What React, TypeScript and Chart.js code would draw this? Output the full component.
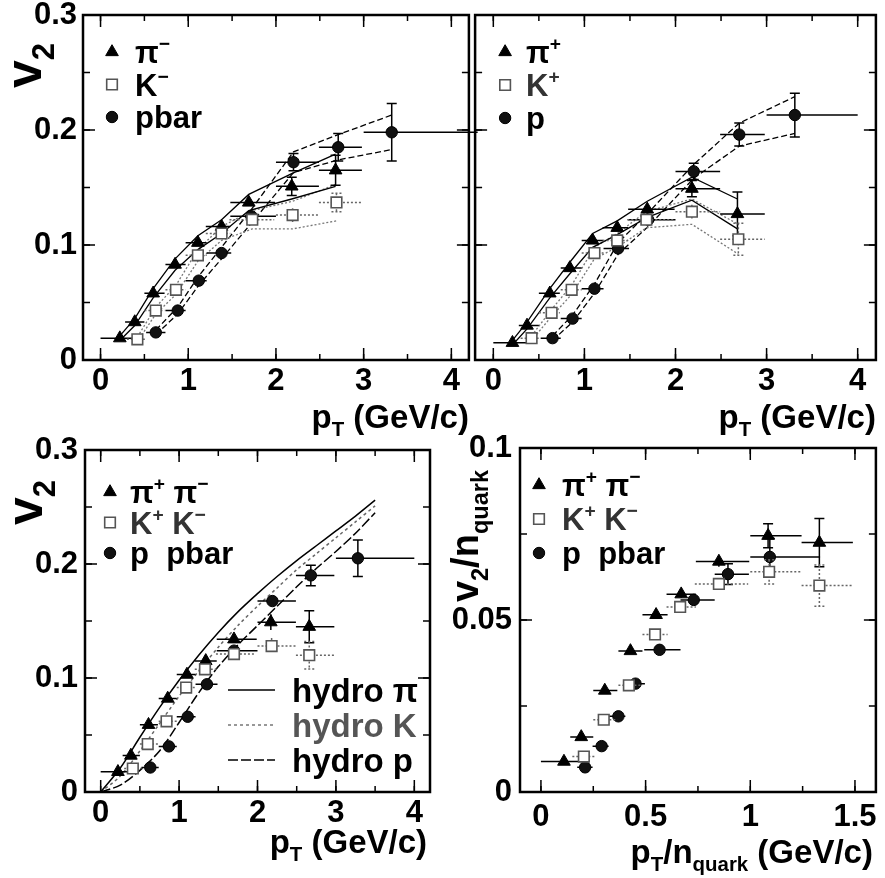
import React, { useEffect, useRef } from 'react';
import { Chart, registerables } from 'chart.js';
Chart.register(...registerables);

const FONT = '"Liberation Sans", Arial, Helvetica, sans-serif';

// ---------------- tick labels ----------------
const ptTicks = [0, 1, 2, 3, 4];
const v2Ticks = [0, 0.1, 0.2, 0.3];
const nqXTicks = [0, 0.5, 1, 1.5];
const nqYTicks = [0, 0.05, 0.1];

// ---------------- top-left: negative particles ----------------
const piMinusX = [0.22, 0.39, 0.6, 0.85, 1.11, 1.38, 1.69, 2.18, 2.68];
const piMinusV2 = [0.019, 0.033, 0.058, 0.083, 0.102, 0.116, 0.137, 0.151, 0.165];
const piMinusErr = [0.001, 0.001, 0.001, 0.001, 0.002, 0.002, 0.003, 0.008, 0.013];
const piMinusSys = [0.002, 0.003, 0.004, 0.005, 0.006, 0.006, 0.007, 0.011, 0.014];

const kMinusX = [0.42, 0.63, 0.86, 1.11, 1.38, 1.73, 2.19, 2.69];
const kMinusV2 = [0.018, 0.043, 0.061, 0.091, 0.11, 0.122, 0.126, 0.137];
const kMinusErr = [0.002, 0.002, 0.002, 0.002, 0.003, 0.003, 0.006, 0.008];
const kMinusSys = [0.002, 0.003, 0.004, 0.005, 0.006, 0.008, 0.012, 0.016];

const pbarX = [0.63, 0.88, 1.12, 1.38, 1.72, 2.2, 2.71, 3.32];
const pbarV2 = [0.024, 0.043, 0.069, 0.093, 0.125, 0.172, 0.185, 0.198];
const pbarErr = [0.001, 0.001, 0.001, 0.002, 0.003, 0.0075, 0.012, 0.025];
const pbarSys = [0.002, 0.003, 0.004, 0.005, 0.006, 0.009, 0.011, 0.015];

// ---------------- top-right: positive particles ----------------
const piPlusX = [0.21, 0.37, 0.62, 0.84, 1.09, 1.36, 1.69, 2.18, 2.68];
const piPlusV2 = [0.015, 0.03, 0.058, 0.08, 0.104, 0.115, 0.131, 0.149, 0.127];
const piPlusErr = [0.001, 0.001, 0.001, 0.001, 0.002, 0.002, 0.003, 0.007, 0.019];
const piPlusSys = [0.002, 0.003, 0.004, 0.005, 0.006, 0.006, 0.007, 0.01, 0.013];

const kPlusX = [0.42, 0.64, 0.86, 1.11, 1.36, 1.68, 2.18, 2.69];
const kPlusV2 = [0.019, 0.041, 0.061, 0.093, 0.104, 0.122, 0.129, 0.105];
const kPlusErr = [0.002, 0.002, 0.002, 0.002, 0.003, 0.003, 0.006, 0.014];
const kPlusSys = [0.002, 0.003, 0.004, 0.005, 0.006, 0.007, 0.011, 0.013];

const protonX = [0.65, 0.87, 1.11, 1.37, 1.7, 2.2, 2.7, 3.31];
const protonV2 = [0.019, 0.036, 0.062, 0.097, 0.122, 0.164, 0.196, 0.213];
const protonErr = [0.001, 0.001, 0.001, 0.002, 0.003, 0.007, 0.01, 0.019];
const protonSys = [0.002, 0.003, 0.004, 0.005, 0.006, 0.006, 0.01, 0.016];

// ---------------- bottom: combined charges ----------------
const piX = [0.22, 0.385, 0.61, 0.855, 1.1, 1.34, 1.7, 2.17, 2.66];
const piV2 = [0.0177, 0.032, 0.059, 0.082, 0.103, 0.115, 0.134, 0.149, 0.145];
const piErr = [0.001, 0.001, 0.001, 0.001, 0.002, 0.002, 0.003, 0.007, 0.014];

const kX = [0.41, 0.6, 0.84, 1.09, 1.33, 1.7, 2.18, 2.66];
const kV2 = [0.0206, 0.042, 0.062, 0.0916, 0.1076, 0.121, 0.128, 0.12];
const kErr = [0.002, 0.002, 0.002, 0.002, 0.003, 0.003, 0.007, 0.012];

const pX = [0.633, 0.87, 1.11, 1.355, 1.7, 2.19, 2.68, 3.28];
const pV2 = [0.0215, 0.04, 0.066, 0.0945, 0.124, 0.1675, 0.19, 0.205];
const pErr = [0.001, 0.001, 0.001, 0.002, 0.002, 0.004, 0.009, 0.016];

// pT bin edges (horizontal bars)
const pionBinLo = [0.0, 0.28, 0.5, 0.74, 0.97, 1.2, 1.48, 2.0, 2.49];
const pionBinHi = [0.38, 0.5, 0.73, 0.97, 1.21, 1.48, 1.99, 2.49, 2.98];
const kaonBinLo = [0.3, 0.5, 0.74, 0.97, 1.2, 1.47, 2.0, 2.49];
const kaonBinHi = [0.52, 0.73, 0.97, 1.21, 1.48, 1.98, 2.49, 2.98];
const protonBinLo = [0.52, 0.74, 0.97, 1.21, 1.48, 2.0, 2.49, 3.0];
const protonBinHi = [0.74, 0.97, 1.21, 1.49, 2.0, 2.49, 2.98, 4.0];
const pbarBinHiTop = [0.74, 0.97, 1.21, 1.49, 2.0, 2.49, 2.98, 4.3];

// number of constituent quarks
const nqPion = 2;
const nqKaon = 2;
const nqProton = 3;

// hydro curves
const hydroPt = [0, 0.25, 0.5, 0.75, 1, 1.25, 1.5, 1.75, 2, 2.25, 2.5, 2.75, 3, 3.25, 3.5];
const hydroPi = [0, 0.021, 0.048, 0.074, 0.098, 0.12, 0.14, 0.158, 0.174, 0.189, 0.203, 0.216, 0.229, 0.242, 0.256];
const hydroK = [0, 0.014, 0.036, 0.06, 0.084, 0.106, 0.127, 0.146, 0.163, 0.179, 0.195, 0.209, 0.223, 0.237, 0.251];
const hydroP = [0, 0.006, 0.019, 0.036, 0.061, 0.087, 0.11, 0.129, 0.146, 0.163, 0.18, 0.196, 0.211, 0.227, 0.245];

// ---------------- drawing helpers ----------------
type Seg = { t: string; s?: 'sub' | 'sup' };

function segSize(seg: Seg, size: number) {
  return seg.s ? size * 0.62 : size;
}

function richWidth(ctx: CanvasRenderingContext2D, segs: Seg[], size: number) {
  let w = 0;
  for (const sg of segs) {
    ctx.font = `bold ${segSize(sg, size)}px ${FONT}`;
    w += ctx.measureText(sg.t).width;
  }
  return w;
}

function drawRich(
  ctx: CanvasRenderingContext2D,
  segs: Seg[],
  x: number,
  y: number,
  size: number,
  align: 'left' | 'right',
  color: string
) {
  const total = richWidth(ctx, segs, size);
  let cx = align === 'right' ? x - total : x;
  ctx.fillStyle = color;
  ctx.textAlign = 'left';
  ctx.textBaseline = 'alphabetic';
  for (const sg of segs) {
    const fs = segSize(sg, size);
    ctx.font = `bold ${fs}px ${FONT}`;
    const dy = sg.s === 'sub' ? size * 0.25 : sg.s === 'sup' ? -size * 0.42 : 0;
    ctx.fillText(sg.t, cx, y + dy);
    cx += ctx.measureText(sg.t).width;
  }
}

const markerStyles: Record<string, { style: string; r: number; fill: string; stroke: string; lw: number; errColor: string; errDash: number[] }> = {
  pion: { style: 'triangle', r: 7.3, fill: '#000', stroke: '#000', lw: 1, errColor: '#000', errDash: [] },
  kaon: { style: 'rect', r: 7.5, fill: '#fff', stroke: '#555', lw: 1.6, errColor: '#666', errDash: [2, 2] },
  proton: { style: 'circle', r: 5.7, fill: '#111', stroke: '#000', lw: 1, errColor: '#000', errDash: [] },
};

function drawMarker(ctx: CanvasRenderingContext2D, kind: string, x: number, y: number) {
  const m = markerStyles[kind];
  const r = m.r;
  ctx.beginPath();
  if (m.style === 'triangle') {
    ctx.moveTo(x, y - r);
    ctx.lineTo(x + r * 0.866, y + r * 0.5);
    ctx.lineTo(x - r * 0.866, y + r * 0.5);
    ctx.closePath();
  } else if (m.style === 'rect') {
    const s = r * Math.SQRT1_2;
    ctx.rect(x - s, y - s, 2 * s, 2 * s);
  } else {
    ctx.arc(x, y, r, 0, Math.PI * 2);
  }
  ctx.fillStyle = m.fill;
  ctx.fill();
  ctx.lineWidth = m.lw;
  ctx.strokeStyle = m.stroke;
  ctx.setLineDash([]);
  ctx.stroke();
}

function markerSet(kind: string, xs: number[], ys: number[], errY: number[], binLo: number[], binHi: number[]) {
  const m = markerStyles[kind];
  return {
    type: 'scatter',
    data: xs.map((x, i) => ({ x, y: ys[i] })),
    pointStyle: m.style,
    pointRadius: m.r,
    backgroundColor: m.fill,
    borderColor: m.stroke,
    borderWidth: m.lw,
    showLine: false,
    order: 1,
    errY,
    errXLo: binLo,
    errXHi: binHi,
    errColor: m.errColor,
    errDash: m.errDash,
  };
}

function bandSets(xs: number[], ys: number[], sys: number[], dash: number[], color: string) {
  const mk = (sign: number) => ({
    type: 'scatter',
    data: xs.map((x, i) => ({ x, y: ys[i] + sign * sys[i] })),
    showLine: true,
    pointRadius: 0,
    borderColor: color,
    borderWidth: 1.3,
    borderDash: dash,
    order: 3,
  });
  return [mk(1), mk(-1)];
}

function curveSet(ys: number[], dash: number[], color: string, width: number) {
  return {
    type: 'scatter',
    data: hydroPt.map((x, i) => ({ x, y: ys[i] })),
    showLine: true,
    pointRadius: 0,
    borderColor: color,
    borderWidth: width,
    borderDash: dash,
    tension: 0.3,
    order: 3,
  };
}

type LegendItem = { label: Seg[]; marker?: string; line?: { dash: number[]; color: string }; color?: string };

interface DecorCfg {
  xMajor: number;
  xMinor: number;
  yMajor: number;
  yMinor: number;
  legend: { dx: number; dy: number; rowH: number; markerDx: number; textDx: number; size: number; items: LegendItem[] };
  hydro?: { dx: number; dy: number; rowH: number; lineLen: number; textDx: number; size: number; items: LegendItem[] };
  xTitle: { segs: Seg[]; dx: number; dy: number; size: number };
  yTitle?: { segs: Seg[]; dx: number; dy: number; size: number };
}

function makeDecor(cfg: DecorCfg) {
  return {
    id: 'decor',
    beforeDatasetDraw(chart: any, args: any) {
      const ds = chart.data.datasets[args.index];
      if (!ds.errY) return;
      const { ctx } = chart;
      const xs = chart.scales.x;
      const ys = chart.scales.y;
      ctx.save();
      ctx.strokeStyle = ds.errColor;
      ctx.lineWidth = 1.5;
      ctx.setLineDash(ds.errDash);
      ds.data.forEach((pt: any, i: number) => {
        const px = xs.getPixelForValue(pt.x);
        const py = ys.getPixelForValue(pt.y);
        const xl = xs.getPixelForValue(ds.errXLo[i]);
        const xh = xs.getPixelForValue(ds.errXHi[i]);
        const yt = ys.getPixelForValue(pt.y + ds.errY[i]);
        const yb = ys.getPixelForValue(pt.y - ds.errY[i]);
        ctx.beginPath();
        ctx.moveTo(xl, py);
        ctx.lineTo(xh, py);
        ctx.moveTo(px, yt);
        ctx.lineTo(px, yb);
        if (py - yt > 8) {
          ctx.moveTo(px - 5, yt);
          ctx.lineTo(px + 5, yt);
          ctx.moveTo(px - 5, yb);
          ctx.lineTo(px + 5, yb);
        }
        ctx.stroke();
      });
      ctx.restore();
    },
    afterDraw(chart: any) {
      const { ctx, chartArea: a } = chart;
      const xs = chart.scales.x;
      const ys = chart.scales.y;
      ctx.save();
      ctx.strokeStyle = '#000';
      ctx.setLineDash([]);
      ctx.lineWidth = 1.5;
      const eps = 1e-9;
      const xTicks = (step: number, len: number) => {
        for (let i = Math.ceil(xs.min / step - eps); i * step <= xs.max + eps; i++) {
          const px = xs.getPixelForValue(i * step);
          ctx.beginPath();
          ctx.moveTo(px, a.bottom);
          ctx.lineTo(px, a.bottom - len);
          ctx.moveTo(px, a.top);
          ctx.lineTo(px, a.top + len);
          ctx.stroke();
        }
      };
      const yTicks = (step: number, len: number) => {
        for (let i = Math.ceil(ys.min / step - eps); i * step <= ys.max + eps; i++) {
          const py = ys.getPixelForValue(i * step);
          ctx.beginPath();
          ctx.moveTo(a.left, py);
          ctx.lineTo(a.left + len, py);
          ctx.moveTo(a.right, py);
          ctx.lineTo(a.right - len, py);
          ctx.stroke();
        }
      };
      xTicks(cfg.xMinor, 6);
      xTicks(cfg.xMajor, 12);
      yTicks(cfg.yMinor, 7);
      yTicks(cfg.yMajor, 12);
      ctx.lineWidth = 2.5;
      ctx.strokeRect(a.left, a.top, a.right - a.left, a.bottom - a.top);

      // legend
      const L = cfg.legend;
      L.items.forEach((it, i) => {
        const cy = a.top + L.dy + i * L.rowH;
        if (it.marker) drawMarker(ctx, it.marker, a.left + L.markerDx, cy);
        drawRich(ctx, it.label, a.left + L.textDx, cy + L.size * 0.36, L.size, 'left', it.color || '#000');
      });
      if (cfg.hydro) {
        const H = cfg.hydro;
        H.items.forEach((it, i) => {
          const cy = a.top + H.dy + i * H.rowH;
          if (it.line) {
            ctx.save();
            ctx.strokeStyle = it.line.color;
            ctx.lineWidth = 1.6;
            ctx.setLineDash(it.line.dash);
            ctx.beginPath();
            ctx.moveTo(a.left + H.dx, cy);
            ctx.lineTo(a.left + H.dx + H.lineLen, cy);
            ctx.stroke();
            ctx.restore();
          }
          drawRich(ctx, it.label, a.left + H.textDx, cy + H.size * 0.36, H.size, 'left', it.color || '#000');
        });
      }
      // axis titles
      const T = cfg.xTitle;
      drawRich(ctx, T.segs, a.right + T.dx, a.bottom + T.dy, T.size, 'right', '#000');
      if (cfg.yTitle) {
        const Y = cfg.yTitle;
        ctx.save();
        ctx.translate(a.left + Y.dx, a.top + Y.dy);
        ctx.rotate(-Math.PI / 2);
        drawRich(ctx, Y.segs, 0, 0, Y.size, 'right', '#000');
        ctx.restore();
      }
      ctx.restore();
    },
  };
}

interface AxisCfg {
  pad: { top: number; right: number; left: number; bottom: number };
  xMin: number;
  xMax: number;
  yMin: number;
  yMax: number;
  xTickVals: number[];
  yTickVals: number[] | null;
  yWidth: number;
  xHeight: number;
  xLabelPad: number;
  yLabelPad: number;
}

function makeConfig(ax: AxisCfg, datasets: any[], decor: DecorCfg): any {
  const tickFont = { family: FONT, size: 31, weight: 'bold' as const, lineHeight: 1.2 };
  return {
    type: 'scatter',
    data: { datasets },
    options: {
      animation: false,
      responsive: false,
      maintainAspectRatio: false,
      events: [],
      layout: { padding: { top: ax.pad.top, right: ax.pad.right, left: ax.pad.left, bottom: ax.pad.bottom } },
      plugins: { legend: { display: false }, tooltip: { enabled: false } },
      scales: {
        x: {
          type: 'linear',
          min: ax.xMin,
          max: ax.xMax,
          grid: { display: false, drawTicks: false },
          border: { display: false },
          ticks: {
            color: '#000',
            font: tickFont,
            padding: ax.xLabelPad,
            maxRotation: 0,
            autoSkip: false,
            callback: (v: any) => String(v),
          },
          afterBuildTicks: (s: any) => {
            s.ticks = ax.xTickVals.map((v) => ({ value: v }));
          },
          afterFit: (s: any) => {
            s.height = ax.xHeight;
            s.paddingTop = 0;
            s.paddingBottom = 0;
            s.paddingLeft = 0;
            s.paddingRight = 0;
          },
        },
        y: {
          type: 'linear',
          min: ax.yMin,
          max: ax.yMax,
          grid: { display: false, drawTicks: false },
          border: { display: false },
          ticks: {
            display: !!ax.yTickVals,
            color: '#000',
            font: tickFont,
            padding: ax.yLabelPad,
            autoSkip: false,
            callback: (v: any) => String(v),
          },
          afterBuildTicks: (s: any) => {
            s.ticks = (ax.yTickVals || v2Ticks).map((v) => ({ value: v }));
          },
          afterFit: (s: any) => {
            s.width = ax.yWidth;
            s.paddingTop = 0;
            s.paddingBottom = 0;
            s.paddingLeft = 0;
            s.paddingRight = 0;
          },
        },
      },
    },
    plugins: [makeDecor(decor)],
  };
}

const sup = (t: string): Seg => ({ t, s: 'sup' });
const sub = (t: string): Seg => ({ t, s: 'sub' });
const ptTitle: Seg[] = [{ t: 'p' }, sub('T'), { t: ' (GeV/c)' }];
const v2Title: Seg[] = [{ t: 'v' }, sub('2')];

function topLeftConfig() {
  const ds = [
    ...bandSets(piMinusX, piMinusV2, piMinusSys, [], '#000'),
    ...bandSets(kMinusX, kMinusV2, kMinusSys, [2, 2], '#777'),
    ...bandSets(pbarX, pbarV2, pbarSys, [6, 3], '#000'),
    markerSet('kaon', kMinusX, kMinusV2, kMinusErr, kaonBinLo, kaonBinHi),
    markerSet('pion', piMinusX, piMinusV2, piMinusErr, pionBinLo, pionBinHi),
    markerSet('proton', pbarX, pbarV2, pbarErr, protonBinLo, pbarBinHiTop),
  ];
  return makeConfig(
    { pad: { top: 15, right: 5, left: 0, bottom: 20 }, xMin: -0.2, xMax: 4.2, yMin: 0, yMax: 0.3, xTickVals: ptTicks, yTickVals: v2Ticks, yWidth: 83, xHeight: 65, xLabelPad: 3, yLabelPad: 6 },
    ds,
    {
      xMajor: 1, xMinor: 0.5, yMajor: 0.1, yMinor: 0.05,
      legend: {
        dx: 0, dy: 37, rowH: 32.5, markerDx: 29, textDx: 52, size: 31,
        items: [
          { label: [{ t: 'π' }, sup('−')], marker: 'pion' },
          { label: [{ t: 'K' }, sup('−')], marker: 'kaon' },
          { label: [{ t: 'pbar' }], marker: 'proton' },
        ],
      },
      xTitle: { segs: ptTitle, dx: 0, dy: 68, size: 33 },
      yTitle: { segs: v2Title, dx: -42, dy: 28, size: 50 },
    }
  );
}

function topRightConfig() {
  const ds = [
    ...bandSets(piPlusX, piPlusV2, piPlusSys, [], '#000'),
    ...bandSets(kPlusX, kPlusV2, kPlusSys, [2, 2], '#777'),
    ...bandSets(protonX, protonV2, protonSys, [6, 3], '#000'),
    markerSet('kaon', kPlusX, kPlusV2, kPlusErr, kaonBinLo, kaonBinHi),
    markerSet('pion', piPlusX, piPlusV2, piPlusErr, pionBinLo, pionBinHi),
    markerSet('proton', protonX, protonV2, protonErr, protonBinLo, protonBinHi),
  ];
  return makeConfig(
    { pad: { top: 15, right: 5, left: 6, bottom: 20 }, xMin: -0.2, xMax: 4.2, yMin: 0, yMax: 0.3, xTickVals: ptTicks, yTickVals: null, yWidth: 0, xHeight: 65, xLabelPad: 3, yLabelPad: 6 },
    ds,
    {
      xMajor: 1, xMinor: 0.5, yMajor: 0.1, yMinor: 0.05,
      legend: {
        dx: 0, dy: 37, rowH: 33, markerDx: 30, textDx: 51, size: 31,
        items: [
          { label: [{ t: 'π' }, sup('+')], marker: 'pion' },
          { label: [{ t: 'K' }, sup('+')], marker: 'kaon', color: '#333' },
          { label: [{ t: 'p' }], marker: 'proton' },
        ],
      },
      xTitle: { segs: ptTitle, dx: 0, dy: 68, size: 33 },
    }
  );
}

function bottomLeftConfig() {
  const ds = [
    curveSet(hydroPi, [], '#000', 1.5),
    curveSet(hydroK, [3, 3], '#666', 1.5),
    curveSet(hydroP, [10, 3], '#000', 1.5),
    markerSet('kaon', kX, kV2, kErr, kaonBinLo, kaonBinHi),
    markerSet('pion', piX, piV2, piErr, pionBinLo, pionBinHi),
    markerSet('proton', pX, pV2, pErr, protonBinLo, protonBinHi),
  ];
  return makeConfig(
    { pad: { top: 20, right: 10, left: 0, bottom: 0 }, xMin: -0.2, xMax: 4.2, yMin: 0, yMax: 0.3, xTickVals: ptTicks, yTickVals: v2Ticks, yWidth: 85, xHeight: 86, xLabelPad: 3, yLabelPad: 7 },
    ds,
    {
      xMajor: 1, xMinor: 0.5, yMajor: 0.1, yMinor: 0.05,
      legend: {
        dx: 0, dy: 42, rowH: 30.5, markerDx: 25, textDx: 45, size: 31,
        items: [
          { label: [{ t: 'π' }, sup('+'), { t: ' π' }, sup('−')], marker: 'pion' },
          { label: [{ t: 'K' }, sup('+'), { t: ' K' }, sup('−')], marker: 'kaon', color: '#333' },
          { label: [{ t: 'p  pbar' }], marker: 'proton' },
        ],
      },
      hydro: {
        dx: 143, dy: 240, rowH: 35, lineLen: 47, textDx: 207, size: 33,
        items: [
          { label: [{ t: 'hydro π' }], line: { dash: [], color: '#000' } },
          { label: [{ t: 'hydro K' }], line: { dash: [3, 3], color: '#777' }, color: '#555' },
          { label: [{ t: 'hydro p' }], line: { dash: [10, 3], color: '#000' } },
        ],
      },
      xTitle: { segs: ptTitle, dx: -3, dy: 61, size: 33 },
      yTitle: { segs: v2Title, dx: -43, dy: 30, size: 50 },
    }
  );
}

function bottomRightConfig() {
  const sc = (arr: number[], n: number) => arr.map((v) => v / n);
  const ds = [
    markerSet('kaon', sc(kX, nqKaon), sc(kV2, nqKaon), sc(kErr, nqKaon), sc(kaonBinLo, nqKaon), sc(kaonBinHi, nqKaon)),
    markerSet('pion', sc(piX, nqPion), sc(piV2, nqPion), sc(piErr, nqPion), sc(pionBinLo, nqPion), sc(pionBinHi, nqPion)),
    markerSet('proton', sc(pX, nqProton), sc(pV2, nqProton), sc(pErr, nqProton), sc(protonBinLo, nqProton), sc(protonBinHi, nqProton)),
  ];
  return makeConfig(
    { pad: { top: 18, right: 5, left: 0, bottom: 0 }, xMin: -0.1, xMax: 1.6, yMin: 0, yMax: 0.1, xTickVals: nqXTicks, yTickVals: nqYTicks, yWidth: 80, xHeight: 86, xLabelPad: 7, yLabelPad: 8 },
    ds,
    {
      xMajor: 0.5, xMinor: 0.25, yMajor: 0.05, yMinor: 0.025,
      legend: {
        dx: 0, dy: 37, rowH: 34, markerDx: 19, textDx: 42, size: 31,
        items: [
          { label: [{ t: 'π' }, sup('+'), { t: ' π' }, sup('−')], marker: 'pion' },
          { label: [{ t: 'K' }, sup('+'), { t: ' K' }, sup('−')], marker: 'kaon', color: '#333' },
          { label: [{ t: 'p  pbar' }], marker: 'proton' },
        ],
      },
      xTitle: { segs: [{ t: 'p' }, sub('T'), { t: '/n' }, sub('quark'), { t: ' (GeV/c)' }], dx: -3, dy: 71, size: 33 },
      yTitle: { segs: [{ t: 'v' }, sub('2'), { t: '/n' }, sub('quark')], dx: -42, dy: 22, size: 38 },
    }
  );
}

function Panel(props: { left: number; top: number; width: number; height: number; make: () => any }) {
  const ref = useRef<HTMLCanvasElement>(null);
  useEffect(() => {
    const chart = new Chart(ref.current as HTMLCanvasElement, props.make());
    return () => chart.destroy();
  }, []);
  return (
    <canvas
      ref={ref}
      width={props.width}
      height={props.height}
      style={{ position: 'absolute', left: props.left, top: props.top, width: props.width, height: props.height }}
    />
  );
}

export default function App() {
  return (
    <div style={{ position: 'absolute', left: 0, top: 0, width: 885, height: 878, background: '#fff', overflow: 'hidden' }}>
      <Panel left={0} top={430} width={440} height={448} make={bottomLeftConfig} />
      <Panel left={440} top={430} width={445} height={448} make={bottomRightConfig} />
      <Panel left={0} top={0} width={478} height={445} make={topLeftConfig} />
      <Panel left={466} top={0} width={419} height={445} make={topRightConfig} />
    </div>
  );
}
